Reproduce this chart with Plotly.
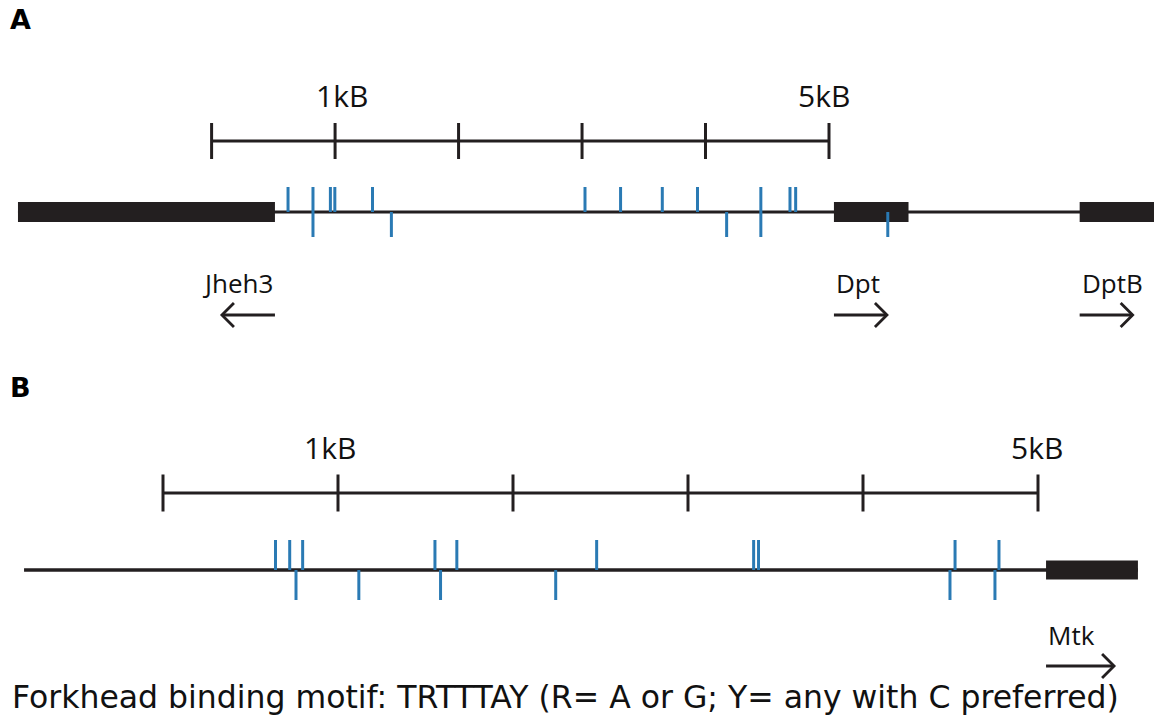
import plotly.graph_objects as go

# ---------------- data (positions along the locus, in kb) ----------------
scale_ticks_kb = [0, 1, 2, 3, 4, 5]
scale_label_kb = [1, 5]
scale_label_txt = ["1kB", "5kB"]

# Panel A: Jheh3 - Dpt - DptB locus
a_sites_up = [0.619, 0.821, 0.962, 0.998, 1.303, 3.024, 3.312, 3.650, 3.935, 4.448, 4.684, 4.730]
a_sites_down = [0.821, 1.456, 4.171, 4.448, 5.476]
a_gene_names = ["Jheh3", "Dpt", "DptB"]
a_gene_start = [-1.568, 5.040, 7.030]
a_gene_end = [0.513, 5.644, 7.900]
a_gene_strand = [-1, 1, 1]
a_locus_start = -1.568
a_locus_end = 7.900

# Panel B: Mtk locus
b_sites_up = [0.643, 0.724, 0.798, 1.554, 1.679, 2.478, 3.375, 3.403, 4.526, 4.777]
b_sites_down = [0.760, 1.119, 1.586, 2.244, 4.497, 4.754]
b_gene_names = ["Mtk"]
b_gene_start = [5.046]
b_gene_end = [5.571]
b_gene_strand = [1]
b_locus_start = -0.794
b_locus_end = 5.571

footnote = "Forkhead binding motif: TRTTTAY (R= A or G; Y= any with C preferred)"

# ---------------- layout / style ----------------
W, H = 1154, 717
DARK = "#231f20"
BLUE = "#2a7ab4"
LABEL_FONT = "Open Sans, Lato, sans-serif"
GENE_FONT = "Open Sans, Lato, sans-serif"

panels = [
    dict(name="A", xa="x", axis="xaxis", origin_px=211.6, ppk=123.48,
         scale_y=141, tick_half=18, track_y=212, block_half=10, site_len=25,
         kb_label_y=95, kb_label_shift=[7, -5], gene_y=283, arrow_y=315, arrow_len=53,
         panel_label_y=19, lw=3,
         up=a_sites_up, down=a_sites_down, names=a_gene_names, gs=a_gene_start,
         ge=a_gene_end, strand=a_gene_strand, ls=a_locus_start, le=a_locus_end),
    dict(name="B", xa="x2", axis="xaxis2", origin_px=163, ppk=175.0,
         scale_y=493, tick_half=18.5, track_y=570, block_half=9.5, site_len=30,
         kb_label_y=447, kb_label_shift=[-8, -1], gene_y=635, arrow_y=666, arrow_len=68,
         panel_label_y=387, lw=3.4,
         up=b_sites_up, down=b_sites_down, names=b_gene_names, gs=b_gene_start,
         ge=b_gene_end, strand=b_gene_strand, ls=b_locus_start, le=b_locus_end),
]

fig = go.Figure()
annotations = []
layout_axes = {}

for p in panels:
    xa = p["xa"]
    ppk = p["ppk"]
    px = lambda n, ppk=ppk: n / ppk  # pixel length -> kb

    # scale bar
    fig.add_trace(go.Scatter(x=[scale_ticks_kb[0], scale_ticks_kb[-1]], y=[p["scale_y"]] * 2,
                             mode="lines", line=dict(color=DARK, width=3), xaxis=xa, yaxis="y",
                             hoverinfo="skip"))
    tx, ty = [], []
    for t in scale_ticks_kb:
        tx += [t, t, None]
        ty += [p["scale_y"] - p["tick_half"], p["scale_y"] + p["tick_half"], None]
    fig.add_trace(go.Scatter(x=tx, y=ty, mode="lines", line=dict(color=DARK, width=3),
                             xaxis=xa, yaxis="y", hoverinfo="skip"))
    for k, txt, sh in zip(scale_label_kb, scale_label_txt, p["kb_label_shift"]):
        annotations.append(dict(x=k, y=p["kb_label_y"], xref=xa, yref="y", text=txt,
                                showarrow=False, xshift=sh, xanchor="center", yanchor="middle",
                                font=dict(family=LABEL_FONT, size=30, color="#111")))

    # genomic line
    fig.add_trace(go.Scatter(x=[p["ls"], p["le"]], y=[p["track_y"]] * 2, mode="lines",
                             line=dict(color=DARK, width=p["lw"]), xaxis=xa, yaxis="y",
                             hoverinfo="skip"))
    # gene blocks
    for s, e in zip(p["gs"], p["ge"]):
        y0, y1 = p["track_y"] - p["block_half"], p["track_y"] + p["block_half"]
        fig.add_trace(go.Scatter(x=[s, e, e, s, s], y=[y0, y0, y1, y1, y0], mode="lines",
                                 fill="toself", fillcolor=DARK, line=dict(color=DARK, width=0),
                                 xaxis=xa, yaxis="y", hoverinfo="skip"))

    # binding sites
    sx, sy = [], []
    for s in p["up"]:
        sx += [s, s, None]
        sy += [p["track_y"], p["track_y"] - p["site_len"], None]
    for s in p["down"]:
        sx += [s, s, None]
        sy += [p["track_y"], p["track_y"] + p["site_len"], None]
    fig.add_trace(go.Scatter(x=sx, y=sy, mode="lines", line=dict(color=BLUE, width=3),
                             xaxis=xa, yaxis="y", hoverinfo="skip"))

    # gene labels and direction arrows
    for name, s, e, st in zip(p["names"], p["gs"], p["ge"], p["strand"]):
        tail = s if st > 0 else e
        head = tail + st * px(p["arrow_len"])
        ay = p["arrow_y"]
        hx = head - st * px(12)
        fig.add_trace(go.Scatter(x=[tail, head, None, hx, head, hx],
                                 y=[ay, ay, None, ay - 12, ay, ay + 12], mode="lines",
                                 line=dict(color=DARK, width=2.8), xaxis=xa, yaxis="y",
                                 hoverinfo="skip"))
        annotations.append(dict(x=tail, y=p["gene_y"], xref=xa, yref="y", text=name,
                                showarrow=False, xanchor="left" if st > 0 else "right",
                                yanchor="middle",
                                font=dict(family=GENE_FONT, size=26, color="#111")))

    # panel letter
    annotations.append(dict(x=8 / W, y=p["panel_label_y"], xref="paper", yref="y",
                            text="<b>%s</b>" % p["name"], showarrow=False,
                            xanchor="left", yanchor="middle",
                            font=dict(family="DejaVu Sans, Verdana, sans-serif", size=27, color="#000")))

    layout_axes[p["axis"]] = dict(range=[-p["origin_px"] / ppk, (W - p["origin_px"]) / ppk],
                                  domain=[0, 1], visible=False, fixedrange=True,
                                  anchor="y", **({"overlaying": "x"} if xa == "x2" else {}))

annotations.append(dict(x=10 / W, y=697, xref="paper", yref="y", text=footnote, showarrow=False,
                        xanchor="left", yanchor="middle",
                        font=dict(family="DejaVu Sans, Verdana, sans-serif", size=31.5, color="#111")))

fig.update_layout(
    width=W, height=H, margin=dict(l=0, r=0, t=0, b=0),
    paper_bgcolor="white", plot_bgcolor="white", showlegend=False,
    yaxis=dict(range=[H, 0], domain=[0, 1], visible=False, fixedrange=True),
    annotations=annotations,
    **layout_axes,
)

fig.write_html("out.html", config={"displayModeBar": False},
               post_script="document.body.style.margin='0';document.body.style.overflow='hidden';")
